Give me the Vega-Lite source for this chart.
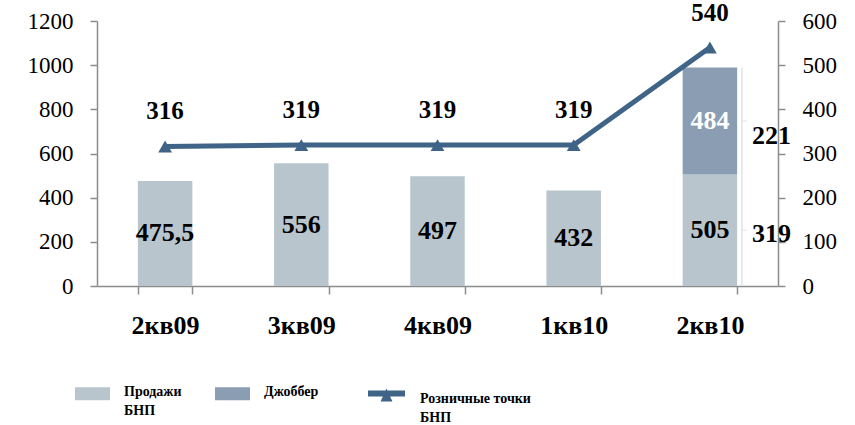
{
  "$schema": "https://vega.github.io/schema/vega-lite/v6.json",
  "width": 681,
  "height": 265,
  "autosize": {"type": "none"},
  "padding": {"left": 97, "top": 21, "right": 77, "bottom": 139},
  "background": "white",
  "config": {
    "view": {"stroke": null},
    "font": "Liberation Serif",
    "axis": {"grid": false, "domainColor": "#8c8c8c", "tickColor": "#8c8c8c", "domainWidth": 1.5, "tickWidth": 1.5, "labelColor": "black", "labelFont": "Liberation Serif", "title": null},
    "legend": {"labelFont": "Liberation Serif"}
  },
  "datasets": {
    "bars": [
      {"q": "2кв09", "series": "Продажи|БНП", "v": 475.5, "label": "475,5", "note": null},
      {"q": "3кв09", "series": "Продажи|БНП", "v": 556, "label": "556", "note": null},
      {"q": "4кв09", "series": "Продажи|БНП", "v": 497, "label": "497", "note": null},
      {"q": "1кв10", "series": "Продажи|БНП", "v": 432, "label": "432", "note": null},
      {"q": "2кв10", "series": "Продажи|БНП", "v": 505, "label": "505", "note": "319"},
      {"q": "2кв10", "series": "Джоббер|", "v": 484, "label": "484", "note": "221"}
    ],
    "points": [
      {"q": "2кв09", "pts": 316},
      {"q": "3кв09", "pts": 319},
      {"q": "4кв09", "pts": 319},
      {"q": "1кв10", "pts": 319},
      {"q": "2кв10", "pts": 540}
    ]
  },
  "encoding": {
    "x": {
      "field": "q", "type": "nominal", "sort": null,
      "scale": {"paddingInner": 0.6, "paddingOuter": 0.3},
      "axis": {"labelAngle": 0, "tickBand": "extent", "tickSize": 8, "labelFontSize": 26, "labelFontWeight": "bold", "labelPadding": 18, "labelBaseline": "top"}
    }
  },
  "layer": [
    {
      "data": {"name": "bars"},
      "transform": [
        {"stack": "v", "groupby": ["q"], "sort": [{"field": "series", "order": "descending"}], "as": ["s0", "s1"]},
        {"calculate": "(datum.s0 + datum.s1) / 2", "as": "mid"}
      ],
      "layer": [
        {
          "mark": {"type": "bar"},
          "encoding": {
            "y": {"field": "s1", "type": "quantitative", "scale": {"domain": [0, 1200], "nice": false},
              "axis": {"values": [0, 200, 400, 600, 800, 1000, 1200], "format": "d", "tickSize": 7, "labelPadding": 17, "labelFontSize": 23, "orient": "left"}},
            "y2": {"field": "s0"},
            "fill": {"field": "series", "type": "nominal",
              "scale": {"domain": ["Продажи|БНП", "Джоббер|"], "range": ["#b8c5cc", "#8a9db3"]},
              "legend": {
                "orient": "none", "legendX": -22, "legendY": 357, "direction": "horizontal", "title": null,
                "labelExpr": "split(datum.label, '|')",
                "labelFontSize": 14, "labelFontWeight": "bold", "labelColor": "black",
                "labelBaseline": "alphabetic", "labelLimit": 300, "labelOffset": 14, "columnPadding": 33,
                "symbolType": "M-1,-0.49H1V0.25H-1Z", "symbolSize": 1225, "symbolStrokeWidth": 0, "symbolOpacity": 1,
                "encode": {"labels": {"update": {"lineHeight": {"value": 19}}}}
              }}
          }
        },
        {
          "transform": [{"filter": "datum.note != null"}],
          "mark": {"type": "rule", "xOffset": 32, "color": "#dfe3e7", "strokeWidth": 1.5},
          "encoding": {
            "y": {"field": "s1", "type": "quantitative"},
            "y2": {"field": "s0"}
          }
        },
        {
          "transform": [{"filter": "datum.note != null"}],
          "mark": {"type": "tick", "xOffset": 34.5, "color": "#dfe3e7", "thickness": 1.5, "size": 5},
          "encoding": {
            "y": {"field": "mid", "type": "quantitative"}
          }
        },
        {
          "mark": {"type": "text", "fontSize": 26, "fontWeight": "bold", "baseline": "middle"},
          "encoding": {
            "y": {"field": "mid", "type": "quantitative"},
            "text": {"field": "label"},
            "fill": {"condition": {"test": "datum.series === 'Джоббер|'", "value": "white"}, "value": "black"}
          }
        },
        {
          "transform": [{"filter": "datum.note != null"}],
          "mark": {"type": "text", "fontSize": 26, "fontWeight": "bold", "baseline": "middle", "align": "left", "dx": 42, "dy": {"expr": "datum.note === '221' ? 15 : 4"}, "color": "black"},
          "encoding": {
            "y": {"field": "mid", "type": "quantitative"},
            "text": {"field": "note"}
          }
        }
      ]
    },
    {
      "data": {"name": "points"},
      "layer": [
        {
          "mark": {"type": "line", "strokeWidth": 5},
          "encoding": {
            "y": {"field": "pts", "type": "quantitative", "scale": {"domain": [0, 600], "nice": false},
              "axis": {"orient": "right", "values": [0, 100, 200, 300, 400, 500, 600], "tickSize": 7, "labelPadding": 17, "labelFontSize": 23}},
            "stroke": {"datum": "Розничные точки|БНП", "type": "nominal",
              "scale": {"range": ["#3f6487"]},
              "legend": {
                "orient": "none", "legendX": 271, "legendY": 363, "title": null,
                "labelExpr": "split(datum.label, '|')",
                "labelFontSize": 14, "labelFontWeight": "bold", "labelColor": "black",
                "labelBaseline": "alphabetic", "labelLimit": 300, "labelOffset": 15,
                "symbolType": "M-1,-0.65H1V-0.33H-1Z M-0.32,-0.06L0,-0.76L0.32,-0.06Z", "symbolSize": 1369, "symbolStrokeWidth": 0, "symbolFillColor": "#3f6487", "symbolOpacity": 1,
                "symbolStrokeColor": "#3f6487",
                "encode": {"symbols": {"update": {"fill": {"value": "#3f6487"}, "strokeWidth": {"value": 0}}}, "labels": {"update": {"lineHeight": {"value": 19}}}}
              }}
          }
        },
        {
          "mark": {"type": "point", "shape": "triangle-up", "filled": true, "size": 190, "color": "#3f6487", "opacity": 1},
          "encoding": {"y": {"field": "pts", "type": "quantitative"}}
        },
        {
          "mark": {"type": "text", "fontSize": 25, "fontWeight": "bold", "baseline": "middle", "dy": -35, "color": "black"},
          "encoding": {
            "y": {"field": "pts", "type": "quantitative"},
            "text": {"field": "pts"}
          }
        }
      ]
    }
  ],
  "resolve": {"scale": {"y": "independent"}}
}
